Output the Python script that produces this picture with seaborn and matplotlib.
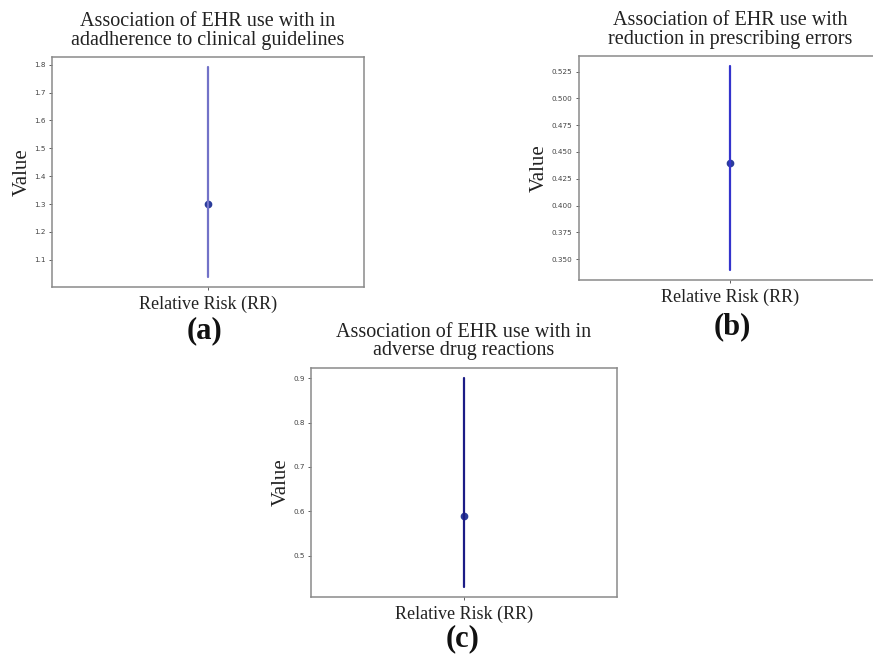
import matplotlib
matplotlib.use("Agg")
import matplotlib.pyplot as plt
import matplotlib.ticker as mticker
import seaborn as sns
import pandas as pd

# ---- data ----
panel_tags = ["(a)", "(b)", "(c)"]
titles = [
    "Association of EHR use with in\nadadherence to clinical guidelines",
    "Association of EHR use with\nreduction in prescribing errors",
    "Association of EHR use with in\nadverse drug reactions",
]
category = "Relative Risk (RR)"
rr_estimate = [1.30, 0.44, 0.59]
ci_lower = [1.04, 0.34, 0.43]
ci_upper = [1.79, 0.53, 0.90]
tick_steps = [0.1, 0.025, 0.1]

sns.set_style("ticks")
plt.rcParams["font.family"] = ["DejaVu Sans"]

W, H = 873, 655
fig = plt.figure(figsize=(W / 100, H / 100), dpi=100)

# pixel boxes: left, top, right, bottom
boxes = [(52, 57, 364, 287), (579, 56, 881, 280), (311, 368, 617, 597)]
tag_pos = [(205, 331), (732, 327), (463, 639)]
line_colors = ["#7272c8", "#3434cc", "#1c1c86"]
marker_color = "#2a3c9a"
serif = "Liberation Serif"

for i in range(3):
    l, t, r, b = boxes[i]
    ax = fig.add_axes([l / W, 1 - b / H, (r - l) / W, (b - t) / H])
    df = pd.DataFrame({
        "metric": [category] * 3,
        "value": [ci_lower[i], rr_estimate[i], ci_upper[i]],
    })
    sns.pointplot(data=df, x="metric", y="value", estimator="median",
                  errorbar=("pi", 100), color=marker_color, markersize=3.5,
                  linestyle="none", err_kws={"color": line_colors[i], "linewidth": 1.6},
                  ax=ax)
    ax.yaxis.set_major_locator(mticker.MultipleLocator(tick_steps[i]))
    span = ci_upper[i] - ci_lower[i]
    ax.set_ylim(ci_lower[i] - 0.05 * span, ci_upper[i] + 0.05 * span)
    ax.set_xticks([0])
    ax.set_xticklabels([""])
    ax.tick_params(axis="both", labelsize=5.2, length=2.5, width=0.6,
                   colors="#444444", pad=2)
    for s in ax.spines.values():
        s.set_visible(True)
        s.set_color("#8a8a8a")
        s.set_linewidth(1.1)
    ax.set_xlabel(category, family=serif, fontsize=13, labelpad=2, color="#222222")
    ax.set_ylabel("Value", family=serif, fontsize=15, labelpad=2, color="#222222")
    ax.set_title(titles[i], family=serif, fontsize=14.5, linespacing=0.95,
                 color="#222222", pad=9)
    fig.text(tag_pos[i][0] / W, 1 - tag_pos[i][1] / H, panel_tags[i], ha="center",
             va="center", family=serif, fontsize=22, fontweight="bold", color="#111111")

fig.savefig("out.png", dpi=100, facecolor="white")
